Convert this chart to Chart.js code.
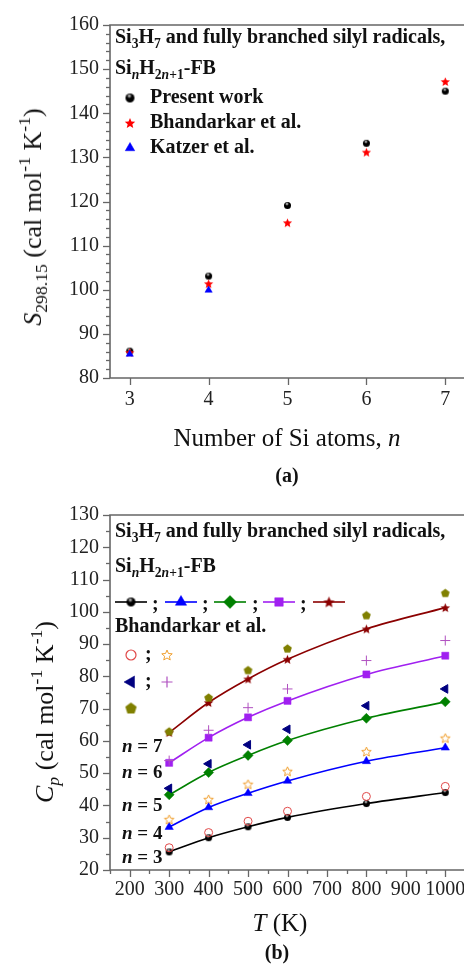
<!DOCTYPE html>
<html>
<head>
<meta charset="utf-8">
<style>
  body { margin: 0; width: 464px; height: 967px; overflow: hidden; background: #fff; position: relative; }
  canvas { position: absolute; left: 0; }
  #chartA { top: 0; }
  #chartB { top: 490px; }
  .t { position: absolute; font-family: 'Liberation Serif', 'Times New Roman', serif; color: #111; white-space: nowrap; line-height: 1; }
  .leg { font-size: 20px; font-weight: bold; }
  .nl { font-size: 19px; font-weight: bold; }
  .ax { font-size: 25px; }
  .ay { font-size: 26px; }
  .c { transform: translateX(-50%); }
  .rot { transform: translate(-50%, -50%) rotate(-90deg); }
  sub, sup { font-size: 68%; line-height: 0; }
  sub { vertical-align: -0.35em; }
  sup { vertical-align: 0.6em; }
</style>
</head>
<body>
<canvas id="chartA" width="480" height="490"></canvas>
<canvas id="chartB" width="480" height="477"></canvas>

<!-- panel (a) texts -->
<div class="t leg" style="left:115px; top:26px">Si<sub>3</sub>H<sub>7</sub> and fully branched silyl radicals,</div>
<div class="t leg" style="left:115px; top:57px">Si<sub><i>n</i></sub>H<sub>2<i>n</i>+1</sub>-FB</div>
<div class="t leg" style="left:150px; top:86px">Present work</div>
<div class="t leg" style="left:150px; top:111px">Bhandarkar et al.</div>
<div class="t leg" style="left:150px; top:136px">Katzer et al.</div>
<div class="t ay rot" style="left:33px; top:217px"><i>S</i><sub>298.15</sub> (cal mol<sup>-1</sup> K<sup>-1</sup>)</div>
<div class="t ax c" style="left:287px; top:425px">Number of Si atoms, <i>n</i></div>
<div class="t c" style="left:287px; top:465px; font-size:20px; font-weight:bold">(a)</div>

<!-- panel (b) texts -->
<div class="t leg" style="left:115px; top:520px">Si<sub>3</sub>H<sub>7</sub> and fully branched silyl radicals,</div>
<div class="t leg" style="left:115px; top:555px">Si<sub><i>n</i></sub>H<sub>2<i>n</i>+1</sub>-FB</div>
<div class="t leg" style="left:152px; top:593px">;</div>
<div class="t leg" style="left:202px; top:593px">;</div>
<div class="t leg" style="left:252px; top:593px">;</div>
<div class="t leg" style="left:300px; top:593px">;</div>
<div class="t leg" style="left:115px; top:615px">Bhandarkar et al.</div>
<div class="t leg" style="left:145px; top:643px">;</div>
<div class="t leg" style="left:145px; top:670px">;</div>
<div class="t nl" style="left:122px; top:736px"><i>n</i> = 7</div>
<div class="t nl" style="left:122px; top:762px"><i>n</i> = 6</div>
<div class="t nl" style="left:122px; top:795px"><i>n</i> = 5</div>
<div class="t nl" style="left:122px; top:823px"><i>n</i> = 4</div>
<div class="t nl" style="left:122px; top:847px"><i>n</i> = 3</div>
<div class="t ay rot" style="left:45px; top:712px"><i>C<sub>p</sub></i> (cal mol<sup>-1</sup> K<sup>-1</sup>)</div>
<div class="t ax c" style="left:280px; top:910px"><i>T</i> (K)</div>
<div class="t c" style="left:277px; top:942px; font-size:20px; font-weight:bold">(b)</div>

<script src="https://cdn.jsdelivr.net/npm/chart.js"></script>
<script type="text/javascript">
    // (a) entropy vs number of Si atoms
    const nAtoms = [3, 4, 5, 6, 7];
    const sPresent = [86.1, 103.1, 119.1, 133.2, 145.0];
    const sBhandarkar = [85.8, 101.4, 115.2, 131.2, 147.2];
    const nKatzer = [3, 4];
    const sKatzer = [85.4, 99.9];
    const xTicksA = [3, 4, 5, 6, 7];
    const yTicksA = [80, 90, 100, 110, 120, 130, 140, 150, 160];

    // (b) heat capacity vs temperature
    const temps = [300, 400, 500, 600, 800, 1000];
    const cpN3 = [25.6, 30.0, 33.4, 36.3, 40.6, 44.0];
    const cpN4 = [33.3, 39.4, 43.8, 47.6, 53.7, 57.9];
    const cpN5 = [43.3, 50.2, 55.5, 60.1, 67.0, 72.1];
    const cpN6 = [53.2, 61.0, 67.3, 72.4, 80.6, 86.4];
    const cpN7 = [62.6, 71.9, 79.2, 85.3, 94.7, 101.3];
    const bhN3 = [26.9, 31.6, 35.1, 38.2, 42.8, 45.9];
    const bhN4 = [35.7, 41.9, 46.6, 50.6, 56.7, 60.9];
    const bhN5 = [45.3, 52.9, 58.8, 63.6, 70.9, 76.1];
    const bhN6 = [53.9, 63.3, 70.3, 76.1, 84.9, 91.1];
    const bhN7 = [63.0, 73.5, 82.0, 88.7, 99.0, 105.9];
    const xTicksB = [200, 300, 400, 500, 600, 700, 800, 900, 1000];
    const yTicksB = [20, 30, 40, 50, 60, 70, 80, 90, 100, 110, 120, 130];

    const pts = (xs, ys) => ys.map((y, i) => ({x: xs[i], y: y}));
    const AXIS = '#666666';
    const SERIF = 'Liberation Serif';

    Chart.defaults.font.family = SERIF;
    Chart.defaults.font.size = 20;
    Chart.defaults.color = '#222';

    // marker images
    function makeImg(size, draw) {
        const c = document.createElement('canvas');
        c.width = c.height = size;
        draw(c.getContext('2d'), size / 2);
        return c;
    }
    function starPath(g, cx, cy, R, r) {
        g.beginPath();
        for (let i = 0; i < 10; i++) {
            const rad = i % 2 ? r : R;
            const ang = -Math.PI / 2 + i * Math.PI / 5;
            const px = cx + rad * Math.cos(ang), py = cy + rad * Math.sin(ang);
            if (i) g.lineTo(px, py); else g.moveTo(px, py);
        }
        g.closePath();
    }
    function ballImg(d) {
        return makeImg(d + 2, (g, m) => {
            const r = d / 2;
            g.beginPath(); g.arc(m, m, r, 0, 2 * Math.PI); g.fillStyle = '#000'; g.fill();
            const hx = m - r * 0.15, hy = m - r * 0.45;
            const grd = g.createRadialGradient(hx, hy, 0, hx, hy, r * 0.55);
            grd.addColorStop(0, 'rgba(255,255,255,0.9)');
            grd.addColorStop(1, 'rgba(255,255,255,0)');
            g.fillStyle = grd;
            g.beginPath(); g.arc(m, m, r, 0, 2 * Math.PI); g.fill();
        });
    }
    function starImg(R, fill, stroke) {
        return makeImg(Math.ceil(R * 2) + 3, (g, m) => {
            starPath(g, m, m + 0.5, R, R * 0.45);
            if (fill) { g.fillStyle = fill; g.fill(); }
            if (stroke) { g.strokeStyle = stroke; g.lineWidth = 1; g.stroke(); }
        });
    }
    function pentImg(R, fill) {
        return makeImg(Math.ceil(R * 2) + 3, (g, m) => {
            g.beginPath();
            for (let i = 0; i < 5; i++) {
                const ang = -Math.PI / 2 + i * 2 * Math.PI / 5;
                const px = m + R * Math.cos(ang), py = m + 0.6 + R * Math.sin(ang);
                if (i) g.lineTo(px, py); else g.moveTo(px, py);
            }
            g.closePath(); g.fillStyle = fill; g.fill();
        });
    }

    const ballS = ballImg(7), ballL = ballImg(9);
    const redStarS = starImg(4.8, '#ff0000'), redStarL = starImg(5.5, '#ff0000');
    const darkStarS = starImg(5, '#8b0000'), darkStarL = starImg(6, '#8b0000');
    const orangeStarS = starImg(5, null, '#f0a030'), orangeStarL = starImg(5.5, null, '#f0a030');
    const pentS = pentImg(4.6, '#808000'), pentL = pentImg(6, '#808000');

    // axis frame, outward major/minor ticks and in-plot legend markers
    const framePlugin = {
        id: 'frame',
        afterDraw(chart, args, opts) {
            const ctx = chart.ctx, a = chart.chartArea;
            const xs = chart.scales.x, ys = chart.scales.y;
            ctx.save();
            ctx.strokeStyle = AXIS;
            ctx.lineWidth = 1.6;
            ctx.beginPath();
            ctx.moveTo(a.right + 20, a.top); ctx.lineTo(a.left, a.top);
            ctx.lineTo(a.left, a.bottom); ctx.lineTo(a.right + 20, a.bottom);
            ctx.stroke();
            ctx.lineWidth = 1.3;
            const isMajor = (v, step) => Math.abs(v / step - Math.round(v / step)) < 1e-6;
            for (let v = opts.x[0]; v <= opts.x[1] + 1e-9; v += opts.x[2]) {
                const px = Math.round(xs.getPixelForValue(v)) + 0.5;
                const len = isMajor(v, opts.x[3]) ? 7 : 4;
                ctx.beginPath(); ctx.moveTo(px, a.bottom); ctx.lineTo(px, a.bottom + len); ctx.stroke();
            }
            for (let v = opts.y[0]; v <= opts.y[1] + 1e-9; v += opts.y[2]) {
                const py = Math.round(ys.getPixelForValue(v)) + 0.5;
                const len = isMajor(v, opts.y[3]) ? 7 : 4;
                ctx.beginPath(); ctx.moveTo(a.left, py); ctx.lineTo(a.left - len, py); ctx.stroke();
            }
            (opts.legend || []).forEach(item => {
                if (item.line) {
                    ctx.strokeStyle = item.line; ctx.lineWidth = 1.6;
                    ctx.beginPath(); ctx.moveTo(item.x - 16, item.y); ctx.lineTo(item.x + 16, item.y); ctx.stroke();
                }
                if (item.ring) {
                    ctx.strokeStyle = item.ring; ctx.lineWidth = 1.2;
                    ctx.beginPath(); ctx.arc(item.x, item.y, item.r, 0, 2 * Math.PI); ctx.stroke();
                    return;
                }
                if (item.plus) {
                    ctx.strokeStyle = item.plus; ctx.lineWidth = 1.2;
                    ctx.beginPath();
                    ctx.moveTo(item.x - item.r, item.y); ctx.lineTo(item.x + item.r, item.y);
                    ctx.moveTo(item.x, item.y - item.r); ctx.lineTo(item.x, item.y + item.r);
                    ctx.stroke();
                    return;
                }
                ctx.fillStyle = item.fill || '#000';
                ctx.strokeStyle = item.fill || '#000';
                ctx.lineWidth = 0.5;
                Chart.helpers.drawPoint(ctx, {
                    pointStyle: item.style, radius: item.r || 5, rotation: item.rot || 0, borderWidth: 0.5
                }, item.x, item.y);
            });
            ctx.restore();
        }
    };

    function axisCfg(min, max, ticks, size, pad) {
        return {
            type: 'linear', min: min, max: max,
            grid: {display: false, drawTicks: false},
            border: {display: false},
            afterBuildTicks: s => { s.ticks = ticks.map(v => ({value: v})); },
            afterFit: s => { if (s.isHorizontal()) s.height = size; else s.width = size; },
            ticks: {
                padding: pad, autoSkip: false, maxRotation: 0, minRotation: 0, color: '#222',
                font: {family: SERIF, size: 20},
                callback: v => String(v)
            }
        };
    }

    new Chart(document.getElementById('chartA'), {
        type: 'scatter',
        data: {
            datasets: [{
                label: 'Katzer et al.',
                data: pts(nKatzer, sKatzer),
                pointStyle: 'triangle', pointRadius: 4.2,
                backgroundColor: '#0000ff', borderColor: '#0000ff', borderWidth: 0.5,
                order: 1
            }, {
                label: 'Bhandarkar et al.',
                data: pts(nAtoms, sBhandarkar),
                pointStyle: redStarS,
                order: 2
            }, {
                label: 'Present work',
                data: pts(nAtoms, sPresent),
                pointStyle: ballS,
                order: 3
            }]
        },
        options: {
            responsive: false,
            animation: false,
            events: [],
            layout: {padding: {top: 25, right: 15, left: 0, bottom: 0}},
            scales: {
                x: axisCfg(2.75, 7.25, xTicksA, 112, 10),
                y: axisCfg(80, 160, yTicksA, 110, 11)
            },
            plugins: {
                legend: {display: false},
                tooltip: {enabled: false},
                frame: {
                    x: [3, 7, 1, 1],
                    y: [80, 160, 2, 10],
                    legend: [
                        {x: 130, y: 98, style: ballL},
                        {x: 130, y: 123, style: redStarL},
                        {x: 130, y: 148, style: 'triangle', r: 5.5, fill: '#0000ff'}
                    ]
                }
            }
        },
        plugins: [framePlugin]
    });

    function fitSet(label, ys, color, style, radius, order) {
        return {
            label: label, data: pts(temps, ys), showLine: true,
            cubicInterpolationMode: 'monotone',
            borderColor: color, backgroundColor: color, borderWidth: 1.6,
            pointStyle: style, pointRadius: radius, pointBorderWidth: 0.5,
            order: order
        };
    }
    function refSet(label, ys, style, fill, stroke, radius, extra) {
        return Object.assign({
            label: label, data: pts(temps, ys), showLine: false,
            pointStyle: style, pointRadius: radius,
            backgroundColor: fill, borderColor: stroke, pointBorderWidth: 1,
            order: 1
        }, extra || {});
    }

    new Chart(document.getElementById('chartB'), {
        type: 'scatter',
        data: {
            datasets: [
                fitSet('n = 3', cpN3, '#000000', ballS, 4, 2),
                fitSet('n = 4', cpN4, '#0000ff', 'triangle', 4.8, 2),
                fitSet('n = 5', cpN5, '#008000', 'rectRot', 5, 2),
                fitSet('n = 6', cpN6, '#a020f0', 'rect', 5, 2),
                fitSet('n = 7', cpN7, '#8b0000', darkStarS, 5, 3),
                refSet('Bhandarkar n = 3', bhN3, 'circle', 'rgba(0,0,0,0)', '#e04848', 4),
                refSet('Bhandarkar n = 4', bhN4, orangeStarS, '#f0a030', '#f0a030', 5),
                refSet('Bhandarkar n = 5', bhN5, 'triangle', '#000080', '#000080', 5, {rotation: -90}),
                refSet('Bhandarkar n = 6', bhN6, 'cross', '#b050c0', '#b050c0', 5),
                refSet('Bhandarkar n = 7', bhN7, pentS, '#808000', '#808000', 5)
            ]
        },
        options: {
            responsive: false,
            animation: false,
            events: [],
            layout: {padding: {top: 25, right: 15, left: 0, bottom: 0}},
            scales: {
                x: axisCfg(150, 1050, xTicksB, 97, 8),
                y: axisCfg(20, 130, yTicksB, 110, 11)
            },
            plugins: {
                legend: {display: false},
                tooltip: {enabled: false},
                frame: {
                    x: [150, 1050, 50, 100],
                    y: [20, 130, 5, 10],
                    legend: [
                        {x: 131, y: 112, style: ballL, line: '#000000'},
                        {x: 181, y: 112, style: 'triangle', r: 6.5, fill: '#0000ff', line: '#0000ff'},
                        {x: 230, y: 112, style: 'rectRot', r: 6.5, fill: '#008000', line: '#008000'},
                        {x: 279, y: 112, style: 'rect', r: 6, fill: '#a020f0', line: '#a020f0'},
                        {x: 329, y: 112, style: darkStarL, line: '#8b0000'},
                        {x: 131, y: 165, ring: '#e04848', r: 5},
                        {x: 167, y: 165, style: orangeStarL},
                        {x: 131, y: 192, style: 'triangle', r: 7, rot: -90, fill: '#000080'},
                        {x: 167, y: 192, plus: '#b050c0', r: 5.5},
                        {x: 131, y: 218, style: pentL}
                    ]
                }
            }
        },
        plugins: [framePlugin]
    });
</script>
</body>
</html>
